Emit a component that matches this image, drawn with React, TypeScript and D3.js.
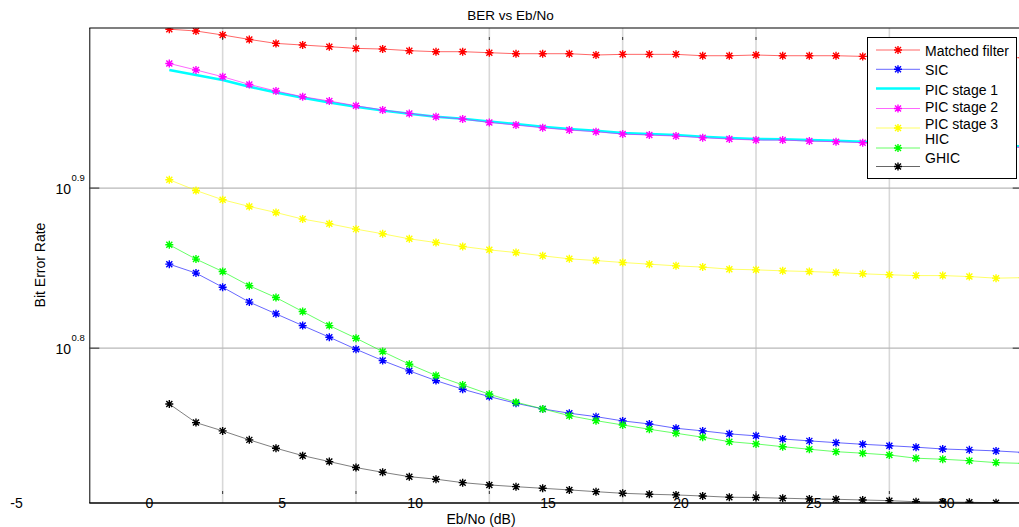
import React from 'react';
import * as d3 from 'd3';

const ebNo = [1,2,3,4,5,6,7,8,9,10,11,12,13,14,15,16,17,18,19,20,21,22,23,24,25,26,27,28,29,30,31,32,33];

const matchedFilter = [9.983,9.957,9.900,9.837,9.781,9.758,9.735,9.711,9.702,9.679,9.665,9.665,9.651,9.637,9.637,9.637,9.619,9.628,9.628,9.628,9.609,9.609,9.619,9.609,9.609,9.609,9.600,9.595,9.595,9.589,9.589,9.582,9.582];
const sic = [7.120,7.029,6.888,6.742,6.629,6.518,6.410,6.300,6.198,6.107,6.022,5.948,5.885,5.829,5.782,5.746,5.718,5.683,5.658,5.623,5.602,5.578,5.562,5.537,5.522,5.508,5.495,5.484,5.472,5.458,5.451,5.443,5.431];
const picStage1 = [9.414,9.346,9.279,9.190,9.115,9.046,8.985,8.929,8.882,8.840,8.802,8.777,8.742,8.710,8.676,8.647,8.626,8.597,8.585,8.573,8.552,8.536,8.524,8.521,8.511,8.503,8.491,8.479,8.468,8.460,8.450,8.442,8.435];
const picStage2 = [9.503,9.414,9.323,9.220,9.133,9.059,9.003,8.942,8.887,8.844,8.802,8.773,8.730,8.697,8.663,8.635,8.614,8.585,8.573,8.560,8.540,8.524,8.511,8.511,8.499,8.491,8.479,8.466,8.457,8.448,8.438,8.429,8.422];
const picStage3 = [8.039,7.916,7.811,7.736,7.669,7.597,7.546,7.488,7.438,7.384,7.345,7.303,7.268,7.240,7.206,7.175,7.157,7.137,7.120,7.103,7.090,7.069,7.062,7.052,7.045,7.035,7.022,7.012,7.004,7.004,6.994,6.978,6.983];
const hic = [7.321,7.172,7.045,6.902,6.786,6.651,6.518,6.401,6.279,6.166,6.066,5.985,5.905,5.838,5.782,5.726,5.685,5.650,5.615,5.583,5.551,5.516,5.498,5.476,5.456,5.437,5.425,5.411,5.386,5.378,5.367,5.352,5.346];
const ghic = [5.823,5.669,5.602,5.530,5.464,5.406,5.360,5.314,5.278,5.245,5.226,5.200,5.183,5.170,5.158,5.146,5.133,5.121,5.114,5.109,5.101,5.092,5.090,5.085,5.080,5.077,5.072,5.067,5.059,5.057,5.055,5.052,5.049];

const seriesNames = ['Matched filter','SIC','PIC stage 1','PIC stage 2','PIC stage 3','HIC','GHIC'];
const seriesColors = ['#ff0000','#0000ff','#00ffff','#ff00ff','#ffff00','#00ff00','#000000'];
const seriesValues = [matchedFilter, sic, picStage1, picStage2, picStage3, hic, ghic];
const seriesMarkers = [true, true, false, true, true, true, true];

const xGridValues = [3,8,13,18,23,28,33];
const xTickLabels = [-5,0,5,10,15,20,25,30];
const yTickExponents = [0.8, 0.9];

const W = 1019, H = 527;
const FONT = '"Liberation Sans", Arial, Helvetica, sans-serif';

const star = 'M-4,0H4M0,-4V4M-3,-3L3,3M-3,3L3,-3';

export default function App() {
  const x = d3.scaleLinear().domain([-2, 33]).range([89.3, 1022.7]);
  const y = d3.scaleLog().domain([5.05, 10]).range([503, 28]);
  const xLabel = d3.scaleLinear().domain([-5, 30]).range([16.5, 946.7]);
  const line = d3.line<number>().x((_, i) => x(ebNo[i])).y(v => y(v));
  const left = x.range()[0], right = x.range()[1];
  const top = y.range()[1], bottom = y.range()[0];

  const legendTextY = [55.5, 75, 95, 112, 129, 144, 162.5];
  const legendLineY = [50, 69.3, 88.5, 108.5, 128, 148, 166.5];

  return (
    <svg width={W} height={H} style={{ position: 'absolute', left: 0, top: 0, display: 'block', background: '#fff' }} fontFamily={FONT}>
      <defs>
        <clipPath id="plotClip">
          <rect x={left} y={top} width={right - left} height={bottom - top} />
        </clipPath>
      </defs>
      <rect x={0} y={0} width={W} height={H} fill="#fff" />
      {/* grid */}
      {xGridValues.map(g => (
        <line key={'vg' + g} x1={x(g)} x2={x(g)} y1={top} y2={bottom} stroke="#d8d8d8" strokeWidth={1.6} />
      ))}
      {yTickExponents.map(e => (
        <line key={'hg' + e} x1={left} x2={right} y1={y(Math.pow(10, e))} y2={y(Math.pow(10, e))} stroke="#b8b8b8" strokeWidth={1.2} />
      ))}
      {/* series */}
      <g clipPath="url(#plotClip)">
        {seriesValues.map((vals, si) => (
          <path key={'l' + si} d={line(vals) || ''} fill="none" stroke={seriesColors[si]}
            strokeWidth={si === 2 ? 2.6 : 1} strokeOpacity={si === 2 ? 1 : (si === 6 ? 0.5 : 0.6)} />
        ))}
        {seriesValues.map((vals, si) => seriesMarkers[si] ? (
          <g key={'m' + si}>
            {vals.map((v, i) => (
              <path key={i} d={star} transform={`translate(${x(ebNo[i])},${y(v)})`} stroke={seriesColors[si]} strokeWidth={1.4} fill="none" />
            ))}
          </g>
        ) : null)}
      </g>
      {/* axes */}
      <line x1={left} x2={W} y1={top} y2={top} stroke="#000" strokeWidth={1.2} />
      <line x1={left + 0.5} x2={left + 0.5} y1={top} y2={bottom} stroke="#000" strokeWidth={1} />
      <line x1={left} x2={W} y1={bottom} y2={bottom} stroke="#000" strokeWidth={1.6} />
      {xGridValues.map(g => (
        <g key={'t' + g}>
          <line x1={x(g)} x2={x(g)} y1={bottom - 12} y2={bottom - 9} stroke="#333" strokeWidth={1} />
          <line x1={x(g)} x2={x(g)} y1={top + 9} y2={top + 12} stroke="#333" strokeWidth={1} />
        </g>
      ))}
      {yTickExponents.map(e => (
        <g key={'yt' + e}>
          <line x1={left} x2={left + 10} y1={y(Math.pow(10, e))} y2={y(Math.pow(10, e))} stroke="#444" strokeWidth={1.2} />
          <line x1={right - 10} x2={right} y1={y(Math.pow(10, e))} y2={y(Math.pow(10, e))} stroke="#444" strokeWidth={1.2} />
          <text x={71} y={y(Math.pow(10, e)) + 6} fontSize={14} textAnchor="end" fill="#000">10</text>
          <text x={71.5} y={y(Math.pow(10, e)) - 7.5} fontSize={9.5} fill="#000">{e.toFixed(1)}</text>
        </g>
      ))}
      {xTickLabels.map(l => (
        <text key={'xl' + l} x={xLabel(l)} y={508} fontSize={14} textAnchor="middle" fill="#000">{l}</text>
      ))}
      <text x={481} y={523.5} fontSize={14} textAnchor="middle" fill="#000">Eb/No (dB)</text>
      <text transform="translate(44.5,265) rotate(-90)" fontSize={14} textAnchor="middle" fill="#000">Bit Error Rate</text>
      <text x={510.5} y={19.5} fontSize={13.5} textAnchor="middle" fill="#000">BER vs Eb/No</text>
      {/* legend */}
      <g>
        <rect x={867.5} y={37.5} width={149} height={141} fill="#fff" stroke="#000" strokeWidth={1} />
        {seriesNames.map((name, i) => (
          <g key={'lg' + i}>
            <line x1={876} x2={920} y1={legendLineY[i]} y2={legendLineY[i]} stroke={seriesColors[i]}
              strokeWidth={i === 2 ? 2.6 : 1} strokeOpacity={i === 2 ? 1 : 0.6} />
            {seriesMarkers[i] ? (
              <path d={star} transform={`translate(898,${legendLineY[i]})`} stroke={seriesColors[i]} strokeWidth={1.4} fill="none" />
            ) : null}
            <text x={925} y={legendTextY[i]} fontSize={14} fill="#000">{name}</text>
          </g>
        ))}
      </g>
    </svg>
  );
}
